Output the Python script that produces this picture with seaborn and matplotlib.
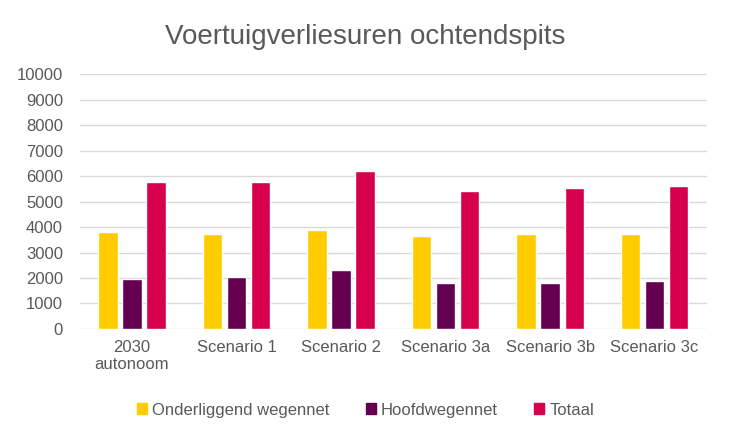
import matplotlib.pyplot as plt
import pandas as pd
import seaborn as sns

# Data
scenarios = ['2030\nautonoom', 'Scenario 1', 'Scenario 2', 'Scenario 3a', 'Scenario 3b', 'Scenario 3c']
onderliggend = [3790, 3740, 3895, 3635, 3710, 3710]
hoofdwegennet = [1960, 2030, 2300, 1790, 1790, 1880]
totaal = [5765, 5765, 6180, 5425, 5540, 5620]
series_names = ['Onderliggend wegennet', 'Hoofdwegennet', 'Totaal']
colors = ['#FFCC00', '#650050', '#D6004D']

df = pd.DataFrame({'scenario': scenarios,
                   series_names[0]: onderliggend,
                   series_names[1]: hoofdwegennet,
                   series_names[2]: totaal})
df_long = df.melt(id_vars='scenario', var_name='serie', value_name='uren')

sns.set_style('white')
plt.rcParams['font.family'] = ['Liberation Sans', 'DejaVu Sans']
text_color = '#595959'

fig = plt.figure(figsize=(7.31, 4.41), dpi=100)
ax = fig.add_axes([0.109, 0.254, 0.858, 0.578])

sns.barplot(data=df_long, x='scenario', y='uren', hue='serie', palette=colors,
            width=0.69, gap=0.2, saturation=1, ax=ax, legend=False)

ax.set_ylim(0, 10000)
ax.set_yticks(range(0, 10001, 1000))
ax.grid(axis='y', color='#D9D9D9', linewidth=1)
ax.set_axisbelow(True)
for s in ax.spines.values():
    s.set_visible(False)
ax.tick_params(axis='both', length=0, labelsize=12, colors=text_color)
ax.tick_params(axis='y', pad=12)
ax.tick_params(axis='x', pad=8)
ax.set_xlabel('')
ax.set_ylabel('')

fig.suptitle('Voertuigverliesuren ochtendspits', y=0.945, fontsize=20, color=text_color)

handles = [plt.Rectangle((0, 0), 1, 1, color=c) for c in colors]
fig.legend(handles, series_names, loc='center', bbox_to_anchor=(0.5, 0.07), ncol=3,
           frameon=False, fontsize=12, labelcolor=text_color, handlelength=0.6,
           handleheight=0.6, handletextpad=0.3, columnspacing=2.2)

fig.savefig('out.png', dpi=100)
